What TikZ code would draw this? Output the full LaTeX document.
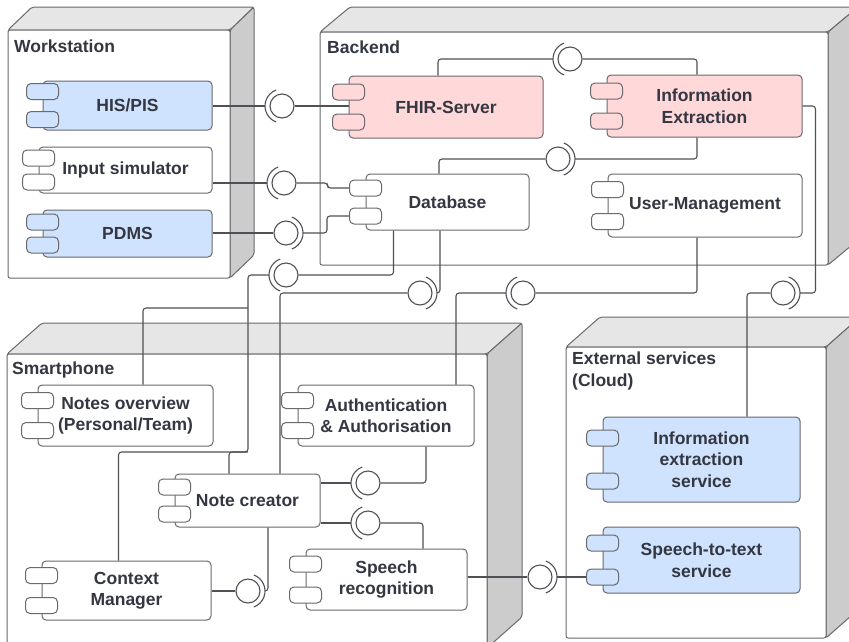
\documentclass[tikz,border=0pt]{standalone}
\usepackage{fontspec}
\setmainfont{Liberation Sans}
\usetikzlibrary{positioning}

\definecolor{compblue}{RGB}{207,226,254}
\definecolor{comppink}{RGB}{255,216,217}
\definecolor{topgray}{RGB}{230,230,230}
\definecolor{sidegray}{RGB}{204,204,204}
\definecolor{boxgray}{RGB}{105,105,110}
\definecolor{linegray}{RGB}{80,80,86}
\definecolor{textgray}{RGB}{52,55,66}

\begin{document}
\begin{tikzpicture}[x=1pt,y=-1pt,
  every node/.style={font=\fontsize{17.5}{21.5}\selectfont\bfseries,text=textgray},
  deploy/.style={draw=boxgray,line width=1pt,rounded corners=2pt},
  comp/.style={draw=boxgray,line width=1pt,rounded corners=4pt,fill=white,
    inner sep=0pt,align=center},
  pinbox/.style={draw=boxgray,line width=1pt,rounded corners=4.5pt,
    minimum width=32pt,minimum height=16pt,inner sep=0pt},
  iball/.style={draw=linegray,line width=1.1pt,fill=white,circle,
    minimum size=24pt,inner sep=0pt},
  wire/.style={draw=linegray,line width=1.1pt,rounded corners=3pt},
  lbl/.style={anchor=west,align=left,inner sep=0pt}]

  \useasboundingbox (0,0) rectangle (849,641);

  % deployment nodes (3d boxes)
  \foreach \l/\t/\r/\b/\dx/\dy in {8/30/230/278/24/23, 320/32/828/265/30/25,
      7/354/487/648/35/31, 566/347/826/638/34/30} {
    \filldraw[deploy,fill=topgray] (\l,\t) -- (\l+\dx,\t-\dy) -- (\r+\dx,\t-\dy) -- (\r,\t) -- cycle;
    \filldraw[deploy,fill=sidegray] (\r,\t) -- (\r+\dx,\t-\dy) -- (\r+\dx,\b-\dy) -- (\r,\b) -- cycle;
    \filldraw[deploy,fill=white] (\l,\t) rectangle (\r,\b);
  }

  \node[lbl] (wstitle) at (14,46) {Workstation};
  \node[lbl] (betitle) at (327,47) {Backend};
  \node[lbl] (sptitle) at (12,370) {Smartphone};
  \node[lbl] (extitle) at (572,371) {External services\\(Cloud)};

  % components
  \node[comp,fill=compblue,minimum width=169pt,minimum height=49pt] (his) at (127.5,105.5) {HIS/PIS};
  \node[comp,minimum width=173pt,minimum height=46pt] (insim) at (125.5,170) {Input simulator};
  \node[comp,fill=compblue,minimum width=169pt,minimum height=47pt] (pdms) at (127.5,233.5) {PDMS};

  \node[comp,fill=comppink,minimum width=194pt,minimum height=62pt] (fhir) at (446,107) {FHIR-Server};
  \node[comp,fill=comppink,minimum width=195pt,minimum height=62pt] (ie) at (704.5,106) {Information\\Extraction};
  \node[comp,minimum width=163pt,minimum height=56pt] (db) at (447.5,202) {Database};
  \node[comp,minimum width=194pt,minimum height=63pt] (um) at (705,205.5) {User-Management};

  \node[comp,minimum width=175pt,minimum height=61pt] (notes) at (125.5,415.5) {Notes overview\\(Personal/Team)};
  \node[comp,minimum width=176pt,minimum height=61pt] (auth) at (386,415.5) {Authentication\\\& Authorisation};
  \node[comp,minimum width=145pt,minimum height=53pt] (notec) at (247.5,500.5) {Note creator};
  \node[comp,minimum width=169pt,minimum height=59pt] (ctx) at (126.5,590.5) {Context\\Manager};
  \node[comp,minimum width=161pt,minimum height=61pt] (speech) at (386.5,579.5) {Speech\\recognition};

  \node[comp,fill=compblue,minimum width=197pt,minimum height=85pt] (ies) at (701.5,459.5) {Information\\extraction\\service};
  \node[comp,fill=compblue,minimum width=197pt,minimum height=66pt] (stt) at (701.5,560) {Speech-to-text\\service};

  \foreach \n/\o/\c in {his/14/compblue, insim/12/white, pdms/11.5/compblue,
      fhir/15/comppink, ie/15/comppink, db/14/white, um/16/white,
      notes/15/white, auth/15/white, notec/13.5/white, ctx/15/white,
      speech/15.5/white, ies/21.5/compblue, stt/17/compblue} {
    \node[pinbox,fill=\c] (\n1) at ([yshift=\o pt]\n.west) {};
    \node[pinbox,fill=\c] (\n2) at ([yshift=-\o pt]\n.west) {};
  }

  % interfaces
  \node[iball] (b1) at (282,106) {};
  \node[iball] (b2) at (284,183) {};
  \node[iball] (b3) at (286,233) {};
  \node[iball] (b4) at (286,275) {};
  \node[iball] (b5) at (420,293) {};
  \node[iball] (b6) at (523,293) {};
  \node[iball] (b7) at (783,293) {};
  \node[iball] (b8) at (570,59) {};
  \node[iball] (b9) at (558,159) {};
  \node[iball] (b10) at (368,483) {};
  \node[iball] (b11) at (368,523) {};
  \node[iball] (b12) at (248,591) {};
  \node[iball] (b13) at (540,577) {};
  \foreach \b/\a in {b1/180,b2/180,b3/0,b4/180,b5/0,b6/180,b7/0,
      b8/180,b9/0,b10/180,b11/180,b12/0,b13/0}
    \draw[linegray,line width=1.1pt] ([shift={(\a+70:17pt)}]\b.center)
      arc[start angle=\a+70,end angle=\a-70,radius=17pt];

  \coordinate (jn) at (248,452);
  \coordinate (jo) at (248,308);

  % workstation -- backend
  \draw[wire] (his.east |- b1) -- ([xshift=-17pt]b1.center);
  \draw[wire] (b1.east) -- (fhir.west |- b1);
  \draw[wire] (insim.east |- b2) -- ([xshift=-17pt]b2.center);
  \draw[wire] (b2.east) -- ++(31,0) |- (db1.west);
  \draw[wire] (pdms.east |- b3) -- (b3.west);
  \draw[wire] ([xshift=17pt]b3.center) -- ++(24,0) |- (db2.west);

  % inside backend
  \draw[wire] ([xshift=-17pt]b8.center) -| ([xshift=-8pt]fhir.north);
  \draw[wire] (b8.east) -| ([xshift=-7.5pt]ie.north);
  \draw[wire] ([xshift=17pt]b9.center) -| ([xshift=-7.5pt]ie.south);
  \draw[wire] (b9.west) -| ([xshift=-8.5pt]db.north);

  % backend -- smartphone / cloud
  \draw[wire] ([xshift=-54pt]db.south) |- (b4.east);
  \draw[wire] ([xshift=-17pt]b4.center) -| (jn) -| ([xshift=-8pt]ctx.north);
  \draw[wire] ([xshift=-18.5pt]notec.north) |- (jn);
  \draw[wire] ([xshift=17.5pt]notes.north) |- (jo);
  \draw[wire] ([xshift=17pt]b5.center) -| ([xshift=-7.5pt]db.south);
  \draw[wire] (b5.west) -| ([xshift=32.5pt]notec.north);
  \draw[wire] (b6.east) -| ([xshift=-8pt]um.south);
  \draw[wire] ([xshift=-17pt]b6.center) -| ([xshift=70pt]auth.north);
  \draw[wire] (b7.west) -| ([xshift=45.5pt]ies.north);
  \draw[wire] ([xshift=17pt]b7.center) -| ([xshift=13pt]ie.east) -- (ie.east);

  % inside smartphone
  \draw[wire] (notec.east |- b10) -- ([xshift=-17pt]b10.center);
  \draw[wire] (b10.east) -| ([xshift=40pt]auth.south);
  \draw[wire] (notec.east |- b11) -- ([xshift=-17pt]b11.center);
  \draw[wire] (b11.east) -| ([xshift=36.5pt]speech.north);
  \draw[wire] (ctx.east |- b12) -- (b12.west);
  \draw[wire] ([xshift=17pt]b12.center) -| ([xshift=20.5pt]notec.south);
  \draw[wire] (speech.east |- b13) -- (b13.west);
  \draw[wire] ([xshift=17pt]b13.center) -- (stt2.west |- b13);
\end{tikzpicture}
\end{document}
